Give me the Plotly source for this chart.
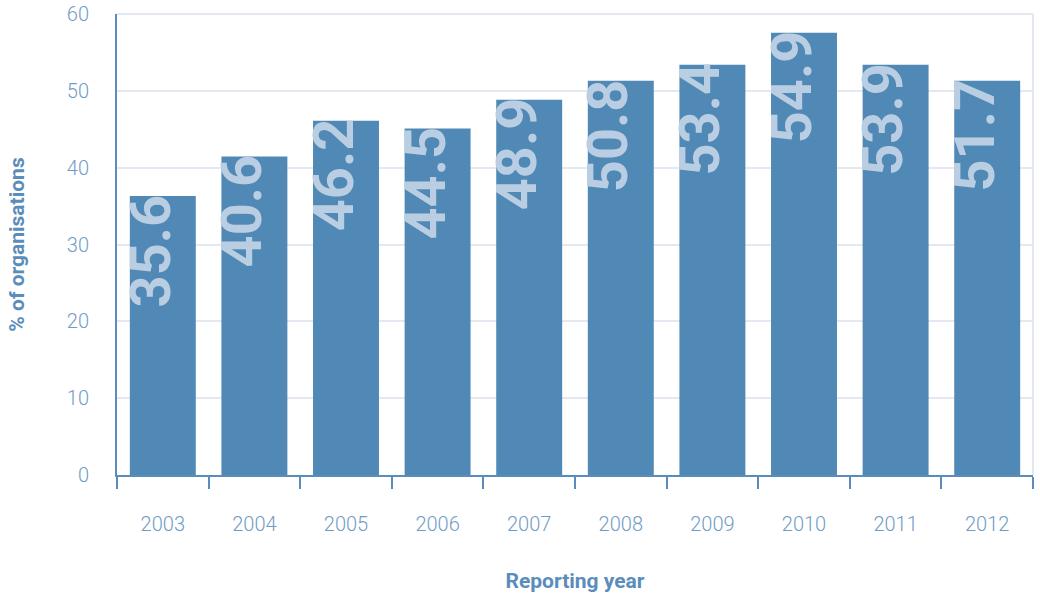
import plotly.graph_objects as go

years = ["2003", "2004", "2005", "2006", "2007", "2008", "2009", "2010", "2011", "2012"]
bar_values = [36.3, 41.45, 46.1, 45.1, 48.85, 51.3, 53.4, 57.55, 53.4, 51.3]
bar_labels = ["35.6", "40.6", "46.2", "44.5", "48.9", "50.8", "53.4", "54.9", "53.9", "51.7"]
y_ticks = [0, 10, 20, 30, 40, 50, 60]

BAR = "#5189b6"
LABEL = "#b9cee2"
TICK = "#6f9cc6"
TITLE = "#5a8dbb"
GRID = "#e3e8f1"

fig = go.Figure()
fig.add_trace(go.Bar(x=years, y=bar_values, marker_color=BAR, marker_line_width=0,
                     hoverinfo="skip"))

for i, (v, lab) in enumerate(zip(bar_values, bar_labels)):
    fig.add_annotation(x=i, y=v, text=lab, showarrow=False, textangle=-90,
                       xanchor="center", yanchor="top", xshift=-12, yshift=4,
                       font=dict(family="Roboto", size=56, color=LABEL, weight="bold"))

fig.add_shape(type="line", xref="paper", yref="paper", x0=1, x1=1, y0=0, y1=1,
              line=dict(color=GRID, width=2), layer="below")
fig.add_shape(type="line", xref="paper", yref="paper", x0=0, x1=1, y0=1, y1=1,
              line=dict(color=GRID, width=2), layer="below")

fig.update_layout(
    width=1040, height=596,
    margin=dict(l=117, r=7, t=14, b=121),
    paper_bgcolor="white", plot_bgcolor="white",
    bargap=0.28, showlegend=False,
    font=dict(family="Roboto", color=TICK),
    xaxis=dict(
        type="category", range=[-0.5, len(years) - 0.5], automargin=False,
        showline=True, linecolor=TITLE, linewidth=2,
        ticks="outside", tickson="boundaries", ticklen=12, tickwidth=2, tickcolor=TITLE,
        tickfont=dict(size=20, color=TICK, weight=300), ticklabelstandoff=30, tickangle=0,
        showgrid=False,
        title=dict(text="Reporting year", font=dict(size=21, color=TITLE, weight="bold"), standoff=38),
    ),
    yaxis=dict(
        range=[0, 60], tickvals=y_ticks, automargin=False,
        showline=True, linecolor=TITLE, linewidth=2,
        showgrid=True, gridcolor=GRID, gridwidth=2, zeroline=False, ticks="",
        tickfont=dict(size=20, color=TICK, weight=300), ticklabelstandoff=22,
        title=dict(text="% of organisations", font=dict(size=21, color=TITLE, weight="bold"), standoff=36),
    ),
)

fig.write_html("out.html", config={"displayModeBar": False},
               post_script="document.body.style.margin='0';")
